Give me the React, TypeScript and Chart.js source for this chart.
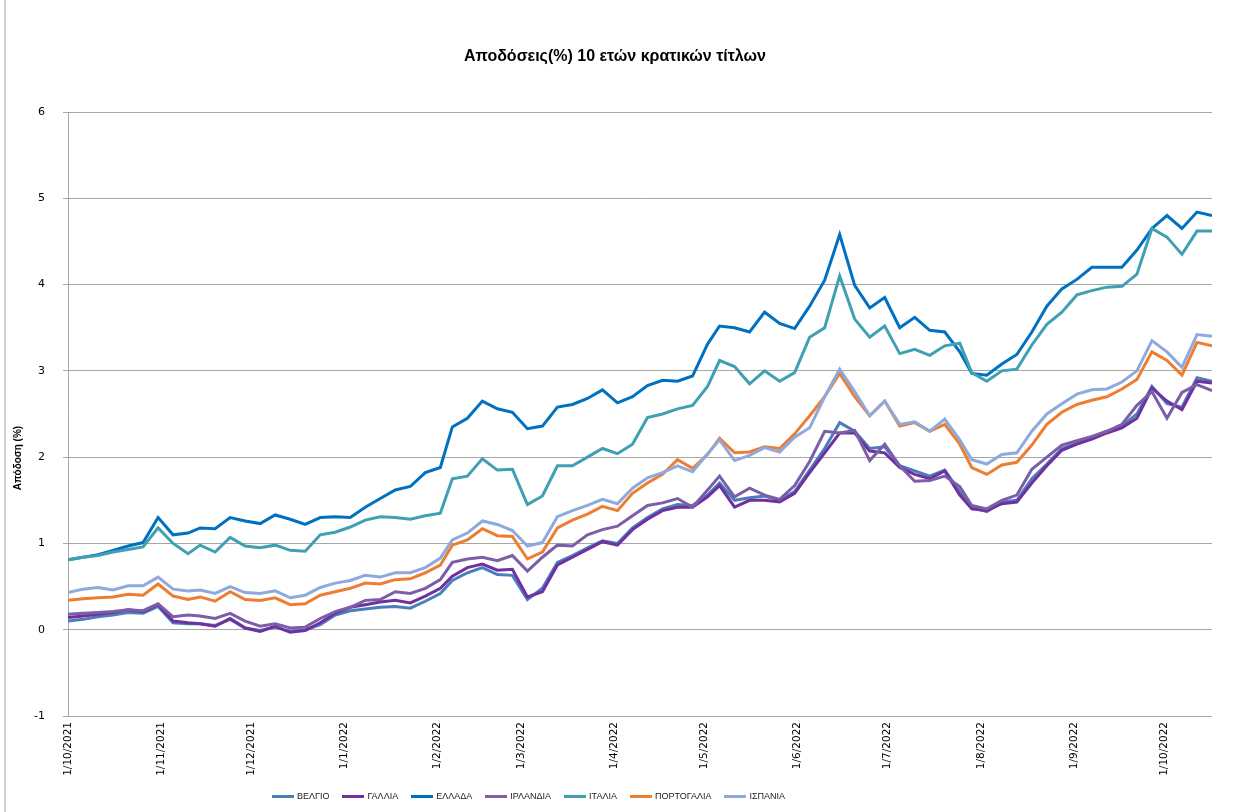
import { useEffect, useRef } from 'react';
import { Chart, registerables } from 'chart.js';

Chart.register(...registerables);

const TITLE = 'Αποδόσεις(%) 10 ετών κρατικών τίτλων';
const Y_TITLE = 'Απόδοση (%)';

// days since 1/10/2021
const DAYS = [0, 5, 10, 15, 20, 25, 30, 35, 40, 44, 49, 54, 59, 64, 69, 74, 79, 84, 89, 94, 99, 104, 109, 114, 119, 124, 128, 133, 138, 143, 148, 153, 158, 163, 168, 173, 178, 183, 188, 193, 198, 203, 208, 213, 217, 222, 227, 232, 237, 242, 247, 252, 257, 262, 267, 272, 277, 282, 287, 292, 297, 301, 306, 311, 316, 321, 326, 331, 336, 341, 346, 351, 356, 361, 366, 371, 376, 381];

const TICK_DAYS = [0, 31, 61, 92, 123, 151, 182, 212, 243, 273, 304, 335, 365];
const TICK_LABELS = ['1/10/2021', '1/11/2021', '1/12/2021', '1/1/2022', '1/2/2022', '1/3/2022', '1/4/2022', '1/5/2022', '1/6/2022', '1/7/2022', '1/8/2022', '1/9/2022', '1/10/2022'];

const SERIES_NAMES = ['ΒΕΛΓΙΟ', 'ΓΑΛΛΙΑ', 'ΕΛΛΑΔΑ', 'ΙΡΛΑΝΔΙΑ', 'ΙΤΑΛΙΑ', 'ΠΟΡΤΟΓΑΛΙΑ', 'ΙΣΠΑΝΙΑ'];
const SERIES_COLORS = ['#4A7EBB', '#7030A0', '#0070C0', '#7B5EA7', '#3FA0B4', '#ED7D31', '#8EA9DB'];

const BELGIUM = [0.10, 0.12, 0.15, 0.17, 0.20, 0.19, 0.27, 0.08, 0.07, 0.07, 0.05, 0.12, 0.02, -0.01, 0.03, -0.02, 0.00, 0.06, 0.17, 0.22, 0.24, 0.26, 0.27, 0.25, 0.33, 0.42, 0.57, 0.66, 0.72, 0.64, 0.63, 0.35, 0.48, 0.78, 0.86, 0.95, 1.03, 1.00, 1.18, 1.30, 1.40, 1.45, 1.44, 1.56, 1.70, 1.50, 1.53, 1.55, 1.50, 1.60, 1.85, 2.10, 2.40, 2.30, 2.10, 2.12, 1.90, 1.84, 1.78, 1.85, 1.60, 1.42, 1.37, 1.48, 1.50, 1.75, 1.92, 2.10, 2.16, 2.23, 2.30, 2.36, 2.50, 2.82, 2.62, 2.58, 2.92, 2.88];
const FRANCE = [0.14, 0.16, 0.18, 0.20, 0.23, 0.21, 0.29, 0.10, 0.08, 0.07, 0.04, 0.13, 0.02, -0.02, 0.04, -0.03, -0.01, 0.08, 0.19, 0.26, 0.29, 0.32, 0.34, 0.31, 0.39, 0.48, 0.62, 0.72, 0.76, 0.69, 0.70, 0.38, 0.44, 0.75, 0.84, 0.93, 1.02, 0.98, 1.16, 1.28, 1.38, 1.42, 1.42, 1.54, 1.67, 1.42, 1.50, 1.50, 1.48, 1.58, 1.82, 2.05, 2.28, 2.28, 2.07, 2.05, 1.88, 1.80, 1.75, 1.84, 1.56, 1.40, 1.38, 1.46, 1.48, 1.70, 1.90, 2.08, 2.15, 2.21, 2.28, 2.34, 2.45, 2.80, 2.65, 2.55, 2.88, 2.86];
const GREECE = [0.81, 0.84, 0.87, 0.92, 0.97, 1.01, 1.30, 1.10, 1.12, 1.18, 1.17, 1.30, 1.26, 1.23, 1.33, 1.28, 1.22, 1.30, 1.31, 1.30, 1.42, 1.52, 1.62, 1.66, 1.82, 1.88, 2.35, 2.45, 2.65, 2.56, 2.52, 2.33, 2.36, 2.58, 2.61, 2.68, 2.78, 2.63, 2.70, 2.83, 2.89, 2.88, 2.94, 3.31, 3.52, 3.50, 3.45, 3.68, 3.55, 3.49, 3.75, 4.05, 4.58, 3.99, 3.73, 3.85, 3.50, 3.62, 3.47, 3.45, 3.22, 2.97, 2.95, 3.08, 3.19, 3.45, 3.75, 3.95, 4.06, 4.20, 4.20, 4.20, 4.40, 4.65, 4.80, 4.65, 4.84, 4.80];
const IRELAND = [0.18, 0.19, 0.20, 0.21, 0.23, 0.22, 0.30, 0.15, 0.17, 0.16, 0.13, 0.19, 0.10, 0.04, 0.07, 0.02, 0.03, 0.13, 0.21, 0.26, 0.34, 0.35, 0.44, 0.42, 0.48, 0.58, 0.78, 0.82, 0.84, 0.80, 0.86, 0.68, 0.84, 0.98, 0.97, 1.10, 1.16, 1.20, 1.32, 1.44, 1.47, 1.52, 1.42, 1.62, 1.78, 1.54, 1.64, 1.56, 1.51, 1.67, 1.95, 2.30, 2.28, 2.31, 1.96, 2.15, 1.90, 1.72, 1.73, 1.78, 1.66, 1.44, 1.40, 1.50, 1.56, 1.86, 2.00, 2.14, 2.19, 2.24, 2.30, 2.38, 2.60, 2.76, 2.45, 2.75, 2.84, 2.77];
const ITALY = [0.81, 0.84, 0.86, 0.90, 0.93, 0.96, 1.18, 1.00, 0.88, 0.98, 0.90, 1.07, 0.97, 0.95, 0.98, 0.92, 0.91, 1.10, 1.13, 1.19, 1.27, 1.31, 1.30, 1.28, 1.32, 1.35, 1.75, 1.78, 1.98, 1.85, 1.86, 1.45, 1.55, 1.90, 1.90, 2.00, 2.10, 2.04, 2.15, 2.46, 2.50, 2.56, 2.60, 2.82, 3.12, 3.05, 2.85, 3.00, 2.88, 2.98, 3.39, 3.50, 4.10, 3.60, 3.39, 3.52, 3.20, 3.25, 3.18, 3.29, 3.32, 2.98, 2.88, 3.00, 3.02, 3.30, 3.54, 3.68, 3.88, 3.93, 3.97, 3.98, 4.12, 4.65, 4.55, 4.35, 4.62, 4.62];
const PORTUGAL = [0.34, 0.36, 0.37, 0.38, 0.41, 0.40, 0.53, 0.39, 0.35, 0.38, 0.33, 0.44, 0.35, 0.34, 0.37, 0.29, 0.30, 0.40, 0.44, 0.48, 0.54, 0.53, 0.58, 0.59, 0.66, 0.75, 0.98, 1.04, 1.17, 1.09, 1.08, 0.82, 0.90, 1.18, 1.27, 1.34, 1.43, 1.38, 1.58, 1.70, 1.80, 1.97, 1.87, 2.03, 2.22, 2.05, 2.06, 2.12, 2.10, 2.27, 2.48, 2.70, 2.97, 2.70, 2.48, 2.65, 2.36, 2.40, 2.30, 2.38, 2.15, 1.88, 1.80, 1.91, 1.94, 2.14, 2.38, 2.52, 2.61, 2.66, 2.70, 2.79, 2.90, 3.22, 3.12, 2.95, 3.33, 3.29];
const SPAIN = [0.43, 0.47, 0.49, 0.46, 0.51, 0.51, 0.61, 0.47, 0.45, 0.46, 0.42, 0.50, 0.43, 0.42, 0.45, 0.37, 0.40, 0.49, 0.54, 0.57, 0.63, 0.61, 0.66, 0.66, 0.72, 0.83, 1.04, 1.12, 1.26, 1.22, 1.15, 0.97, 1.01, 1.31, 1.38, 1.44, 1.51, 1.46, 1.64, 1.76, 1.82, 1.90, 1.83, 2.04, 2.20, 1.96, 2.02, 2.11, 2.06, 2.23, 2.34, 2.70, 3.02, 2.76, 2.48, 2.65, 2.38, 2.41, 2.30, 2.44, 2.20, 1.97, 1.92, 2.03, 2.05, 2.30, 2.50, 2.62, 2.73, 2.78, 2.79, 2.87, 3.00, 3.35, 3.22, 3.04, 3.42, 3.40];

const SERIES = [BELGIUM, FRANCE, GREECE, IRELAND, ITALY, PORTUGAL, SPAIN];

const textPlugin = {
  id: 'texts',
  afterDraw(chart: any) {
    const { ctx, chartArea } = chart;
    ctx.save();
    ctx.fillStyle = '#000';
    ctx.textAlign = 'center';
    ctx.textBaseline = 'middle';
    ctx.font = 'bold 16px "Liberation Sans"';
    ctx.fillText(TITLE, 615, 57);
    ctx.translate(18, chartArea.top + (chartArea.bottom - chartArea.top) * 0.573);
    ctx.rotate(-Math.PI / 2);
    ctx.font = 'bold 10px "Liberation Sans"';
    ctx.fillText(Y_TITLE, 0, 0);
    ctx.restore();
  },
};

export default function App() {
  const canvasRef = useRef<HTMLCanvasElement>(null);

  useEffect(() => {
    const chart = new Chart(canvasRef.current as HTMLCanvasElement, {
      type: 'line',
      data: {
        datasets: SERIES.map((vals, i) => ({
          label: SERIES_NAMES[i],
          data: DAYS.map((d, j) => ({ x: d, y: vals[j] })),
          borderColor: SERIES_COLORS[i],
          backgroundColor: SERIES_COLORS[i],
          borderWidth: 3,
          pointRadius: 0,
          tension: 0,
          order: SERIES.length - i,
        })),
      },
      options: {
        responsive: false,
        animation: false,
        devicePixelRatio: 1,
        layout: { padding: { left: 0, right: 33, top: 112, bottom: 0 } },
        plugins: {
          legend: { display: false },
          tooltip: { enabled: false },
          title: { display: false },
        },
        scales: {
          x: {
            type: 'linear',
            min: 0,
            max: 381,
            grid: { display: false, drawTicks: false },
            border: { display: false },
            afterBuildTicks: (s: any) => {
              s.ticks = TICK_DAYS.map((v) => ({ value: v }));
            },
            afterFit: (s: any) => {
              s.height = 96;
            },
            ticks: {
              autoSkip: false,
              minRotation: 90,
              maxRotation: 90,
              padding: 6,
              color: '#000',
              font: { family: 'DejaVu Sans', size: 10.5 },
              callback: (v: any) => {
                const i = TICK_DAYS.indexOf(Number(v));
                return i >= 0 ? TICK_LABELS[i] : '';
              },
            },
          },
          y: {
            min: -1,
            max: 6,
            afterFit: (s: any) => {
              s.width = 68;
            },
            ticks: {
              stepSize: 1,
              padding: 18,
              color: '#000',
              font: { family: 'DejaVu Sans', size: 11 },
            },
            grid: { color: '#A6A6A6', tickLength: 5, drawTicks: true },
            border: { color: '#A6A6A6' },
          },
        },
      },
      plugins: [textPlugin],
    } as any);
    return () => chart.destroy();
  }, []);

  return (
    <div style={{ position: 'fixed', left: 0, top: 0, width: 1245, height: 812, background: '#fff', overflow: 'hidden' }}>
      <div style={{ position: 'absolute', left: 4, top: 0, width: 2, height: 812, background: '#D0D0D0', pointerEvents: 'none' }} />
      <canvas ref={canvasRef} width={1245} height={812} style={{ position: 'absolute', left: 0, top: 0, width: 1245, height: 812 }} />
      <div style={{ position: 'absolute', left: 272, top: 791, display: 'flex', alignItems: 'center', gap: 13, fontFamily: '"Liberation Sans", Arial, sans-serif', fontSize: 9, color: '#222', whiteSpace: 'nowrap' }}>
        {SERIES_NAMES.map((name, i) => (
          <div key={name} style={{ display: 'flex', alignItems: 'center' }}>
            <span style={{ display: 'inline-block', width: 22, height: 3, background: SERIES_COLORS[i], marginRight: 3 }} />
            <span>{name}</span>
          </div>
        ))}
      </div>
    </div>
  );
}
